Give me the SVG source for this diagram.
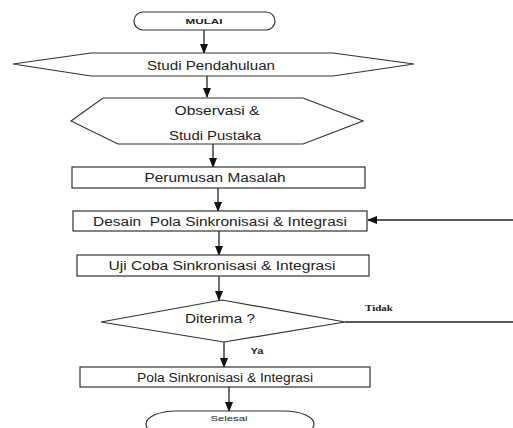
<svg xmlns="http://www.w3.org/2000/svg" width="513" height="428" viewBox="0 0 513 428">
<style>
.s{fill:#fff;stroke:#333;stroke-width:1.2}
.t{font-family:"Liberation Sans",Arial,sans-serif;font-size:12.5px;fill:#222;text-anchor:middle}
.sm{font-family:"Liberation Sans",Arial,sans-serif;font-size:8px;font-weight:bold;fill:#222;text-anchor:middle}
.c{stroke:#222;stroke-width:1.3;fill:none}
</style>
<defs>
<marker id="ah" markerWidth="10" markerHeight="8" refX="9" refY="4" orient="auto" markerUnits="userSpaceOnUse">
<path d="M0,0 L10,4 L0,8 Z" fill="#111"/>
</marker>
</defs>
<rect width="513" height="428" fill="#fff"/>
<g id="connectors">
<line class="c" x1="204" y1="30" x2="204" y2="53" marker-end="url(#ah)"/>
<line class="c" x1="207" y1="76" x2="207" y2="97" marker-end="url(#ah)"/>
<line class="c" x1="213" y1="144" x2="213" y2="167" marker-end="url(#ah)"/>
<line class="c" x1="218" y1="188" x2="218" y2="211" marker-end="url(#ah)"/>
<line class="c" x1="219" y1="231" x2="219" y2="255" marker-end="url(#ah)"/>
<line class="c" x1="219" y1="276" x2="219" y2="300" marker-end="url(#ah)"/>
<line class="c" x1="224" y1="342" x2="224" y2="367" marker-end="url(#ah)"/>
<line class="c" x1="229" y1="387" x2="229" y2="411" marker-end="url(#ah)"/>
<line class="c" x1="345" y1="322" x2="513" y2="322"/>
<line class="c" x1="513" y1="220" x2="368" y2="220" stroke-width="1" marker-end="url(#ah)"/>
<text class="sm" x="379" y="311" style="font-family:'Liberation Serif',serif;font-size:9px" textLength="28" lengthAdjust="spacingAndGlyphs">Tidak</text>
<text class="sm" x="257" y="354" style="font-size:8.5px" textLength="13" lengthAdjust="spacingAndGlyphs">Ya</text>
</g>
<g id="mulai">
<rect class="s" x="134" y="12" width="141" height="18" rx="9" ry="9"/>
<text class="sm" x="204" y="24" textLength="37" lengthAdjust="spacingAndGlyphs">MULAI</text>
</g>
<g id="studi-pendahuluan">
<polygon class="s" points="13,64 91,53 333,53 414,64 333,76 91,76"/>
<text class="t" x="211" y="70" textLength="128" lengthAdjust="spacingAndGlyphs">Studi Pendahuluan</text>
</g>
<g id="observasi">
<polygon class="s" points="71,121 103,98 303,98 363,121 303,144 118,144"/>
<text class="t" x="217" y="115" textLength="85" lengthAdjust="spacingAndGlyphs">Observasi &amp;</text>
<text class="t" x="215" y="140" textLength="92" lengthAdjust="spacingAndGlyphs">Studi Pustaka</text>
</g>
<g id="perumusan">
<rect class="s" x="72" y="167" width="293" height="21"/>
<text class="t" x="215" y="182" textLength="141" lengthAdjust="spacingAndGlyphs">Perumusan Masalah</text>
</g>
<g id="desain">
<rect class="s" x="73" y="211" width="294" height="20"/>
<text class="t" x="220" y="226" textLength="254" lengthAdjust="spacingAndGlyphs" xml:space="preserve">Desain  Pola Sinkronisasi &amp; Integrasi</text>
</g>
<g id="uji-coba">
<rect class="s" x="77" y="255" width="292" height="21"/>
<text class="t" x="222" y="270" textLength="227" lengthAdjust="spacingAndGlyphs">Uji Coba Sinkronisasi &amp; Integrasi</text>
</g>
<g id="diterima">
<polygon class="s" points="101,322 222,300 345,322 224,342"/>
<text class="t" x="220" y="323" textLength="70" lengthAdjust="spacingAndGlyphs">Diterima ?</text>
</g>
<g id="pola">
<rect class="s" x="80" y="367" width="290" height="20"/>
<text class="t" x="225" y="382" textLength="176" lengthAdjust="spacingAndGlyphs">Pola Sinkronisasi &amp; Integrasi</text>
</g>
<g id="selesai">
<rect class="s" x="146" y="411" width="168" height="26" rx="30" ry="13"/>
<text class="sm" x="229" y="421" style="font-weight:normal" textLength="37" lengthAdjust="spacingAndGlyphs">Selesai</text>
</g>
</svg>
